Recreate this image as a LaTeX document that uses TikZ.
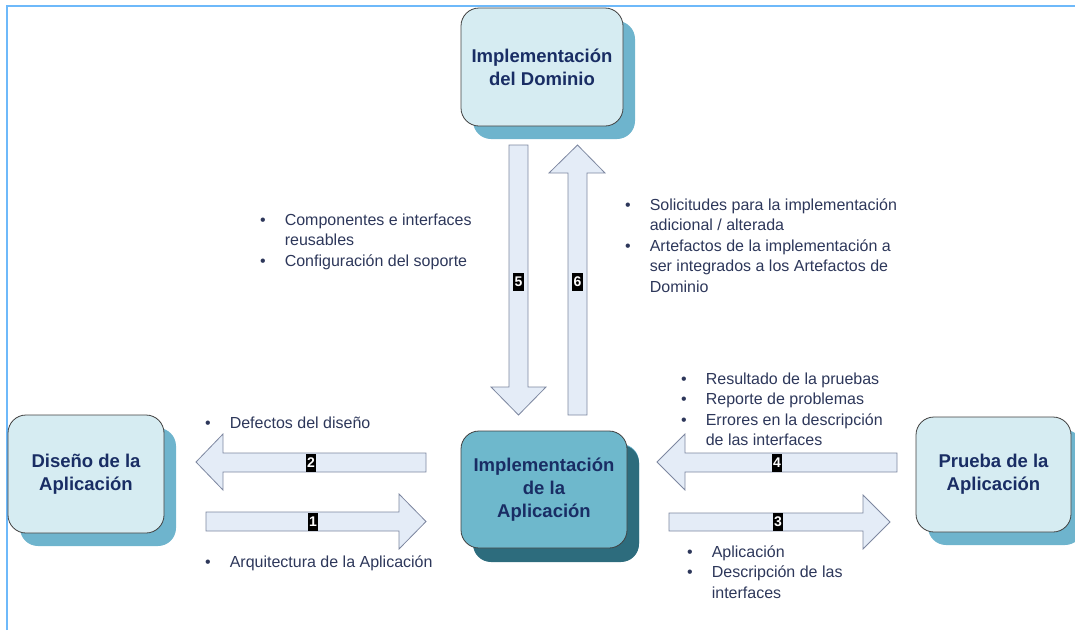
\documentclass[tikz,border=0pt]{standalone}
\usepackage{fontspec}
\setmainfont{Liberation Sans}
\usetikzlibrary{shadows}
\definecolor{framecol}{RGB}{110,185,250}
\definecolor{boxfill}{RGB}{214,236,242}
\definecolor{boxshade}{RGB}{110,180,205}
\definecolor{corefill}{RGB}{110,184,204}
\definecolor{coreshade}{RGB}{45,108,125}
\definecolor{boxtext}{RGB}{25,45,100}
\definecolor{bodytext}{RGB}{45,55,90}
\definecolor{arrowfill}{RGB}{228,236,247}
\definecolor{arrowline}{RGB}{125,135,160}

\begin{document}
\begin{tikzpicture}[x=1pt,y=-1pt,
  phase/.style={draw=black!75, line width=0.8pt, rounded corners=18pt, fill=boxfill,
    text=boxtext, font=\fontsize{18.5}{23}\selectfont\bfseries, align=center,
    general shadow={fill=boxshade, shadow xshift=12pt, shadow yshift=-13pt}},
  core/.style={phase, fill=corefill,
    general shadow={fill=coreshade, shadow xshift=12pt, shadow yshift=-14pt}},
  flow/.style={draw=arrowline, line width=0.8pt, fill=arrowfill, line join=miter},
  num/.style={fill=black, text=white, font=\fontsize{14}{14}\selectfont\bfseries,
    inner xsep=1.2pt, inner ysep=0pt, minimum height=18pt},
  notes/.style={anchor=base west, inner sep=0pt, text=bodytext,
    font=\fontsize{16}{20.5}\selectfont}]
  \useasboundingbox (0,0) rectangle (1075,630);
  % marco
  \draw[framecol, line width=2pt] (7,630) -- (7,6) -- (1075,6);

  % cajas
  \node[phase, minimum width=162pt, minimum height=118pt] (dominio) at (542,67)
    {Implementación\\del Dominio};
  \node[core, minimum width=166pt, minimum height=117pt] (impl) at (544,489.5)
    {Implementación\\de la\\Aplicación};
  \node[phase, minimum width=156pt, minimum height=118pt] (diseno) at (86,474)
    {Diseño de la\\Aplicación};
  \node[phase, minimum width=155pt, minimum height=115pt] (prueba) at (993.5,474.5)
    {Prueba de la\\Aplicación};

  % flechas
  \draw[flow] (426,453) -- (223,453) -- (223,434) -- (196,462) -- (223,490) -- (223,472) -- (426,472) -- cycle;
  \node[num] (n2) at (311,462.5) {2};
  \draw[flow] (206,512) -- (399,512) -- (399,494) -- (426,521.5) -- (399,549) -- (399,531) -- (206,531) -- cycle;
  \node[num] (n1) at (313,521.5) {1};
  \draw[flow] (897,453) -- (685,453) -- (685,434) -- (657,462) -- (685,490) -- (685,472) -- (897,472) -- cycle;
  \node[num] (n4) at (777,462.5) {4};
  \draw[flow] (669,513) -- (863,513) -- (863,495) -- (890,522) -- (863,549) -- (863,531) -- (669,531) -- cycle;
  \node[num] (n3) at (778,522) {3};
  \draw[flow] (509,145) -- (528,145) -- (528,387) -- (546,387) -- (518.5,415) -- (491,387) -- (509,387) -- cycle;
  \node[num] (n5) at (518.5,282) {5};
  \draw[flow] (568,415) -- (568,173) -- (549,173) -- (577.5,145) -- (605,173) -- (587,173) -- (587,415) -- cycle;
  \node[num] (n6) at (577.5,282) {6};

  % textos
  \node[notes] (reuso) at (260,225) {\begin{tabular}[t]{@{}l@{\hspace{19pt}}l@{}}
    \textbullet & Componentes e interfaces\\ & reusables\\
    \textbullet & Configuración del soporte\end{tabular}};
  \node[notes] (solic) at (625,210) {\begin{tabular}[t]{@{}l@{\hspace{19pt}}l@{}}
    \textbullet & Solicitudes para la implementación\\ & adicional / alterada\\
    \textbullet & Artefactos de la implementación a\\ & ser integrados a los Artefactos de\\
      & Dominio\end{tabular}};
  \node[notes] (defec) at (205,428) {\begin{tabular}[t]{@{}l@{\hspace{19pt}}l@{}}
    \textbullet & Defectos del diseño\end{tabular}};
  \node[notes] (arq) at (205,567) {\begin{tabular}[t]{@{}l@{\hspace{19pt}}l@{}}
    \textbullet & Arquitectura de la Aplicación\end{tabular}};
  \node[notes] (result) at (681,384) {\begin{tabular}[t]{@{}l@{\hspace{19pt}}l@{}}
    \textbullet & Resultado de la pruebas\\ \textbullet & Reporte de problemas\\
    \textbullet & Errores en la descripción\\ & de las interfaces\end{tabular}};
  \node[notes] (aplic) at (687,557) {\begin{tabular}[t]{@{}l@{\hspace{19pt}}l@{}}
    \textbullet & Aplicación\\ \textbullet & Descripción de las\\ & interfaces\end{tabular}};
\end{tikzpicture}
\end{document}
